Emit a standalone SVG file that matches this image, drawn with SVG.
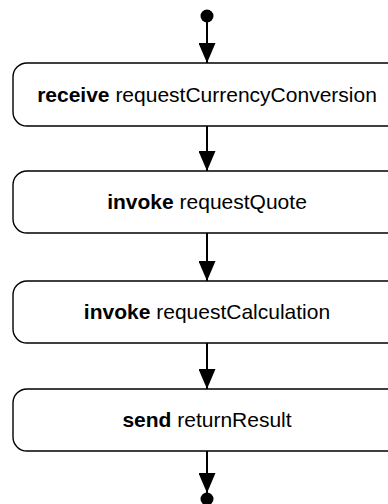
<svg xmlns="http://www.w3.org/2000/svg" width="388" height="504" viewBox="0 0 388 504">
  <style>
    .act { fill: #ffffff; stroke: #000000; stroke-width: 1.4; }
    .lbl { font-family: "Liberation Sans", Arial, sans-serif; font-size: 21px; fill: #000000; text-anchor: middle; }
    .kw { font-weight: bold; }
    .flow { stroke: #000000; stroke-width: 2; fill: none; marker-end: url(#arrow); }
    .pt { fill: #000000; }
  </style>
  <defs>
    <marker id="arrow" markerUnits="userSpaceOnUse" markerWidth="20" markerHeight="17" refX="20" refY="8.5" orient="auto">
      <path d="M0,0 L20,8.5 L0,17 z" fill="#000000"/>
    </marker>
  </defs>
  <rect width="388" height="504" fill="#ffffff"/>

  <g id="connectors">
    <line class="flow" x1="207" y1="20" x2="207" y2="63"/>
    <line class="flow" x1="207" y1="126" x2="207" y2="171"/>
    <line class="flow" x1="207" y1="233" x2="207" y2="281"/>
    <line class="flow" x1="207" y1="343" x2="207" y2="389"/>
    <line class="flow" x1="207" y1="451" x2="207" y2="493"/>
  </g>

  <g id="start">
    <circle class="pt" cx="207" cy="16" r="6.5"/>
  </g>

  <g id="receive">
    <rect class="act" x="13" y="63" width="388" height="63" rx="14" ry="14"/>
    <text class="lbl" x="207" y="102"><tspan class="kw">receive</tspan> requestCurrencyConversion</text>
  </g>

  <g id="invokeQuote">
    <rect class="act" x="13" y="171" width="388" height="62" rx="14" ry="14"/>
    <text class="lbl" x="207" y="209"><tspan class="kw">invoke</tspan> requestQuote</text>
  </g>

  <g id="invokeCalculation">
    <rect class="act" x="13" y="281" width="388" height="62" rx="14" ry="14"/>
    <text class="lbl" x="207" y="319"><tspan class="kw">invoke</tspan> requestCalculation</text>
  </g>

  <g id="send">
    <rect class="act" x="13" y="389" width="388" height="62" rx="14" ry="14"/>
    <text class="lbl" x="207" y="427"><tspan class="kw">send</tspan> returnResult</text>
  </g>

  <g id="end">
    <circle class="pt" cx="207" cy="499" r="6.5"/>
  </g>
</svg>
